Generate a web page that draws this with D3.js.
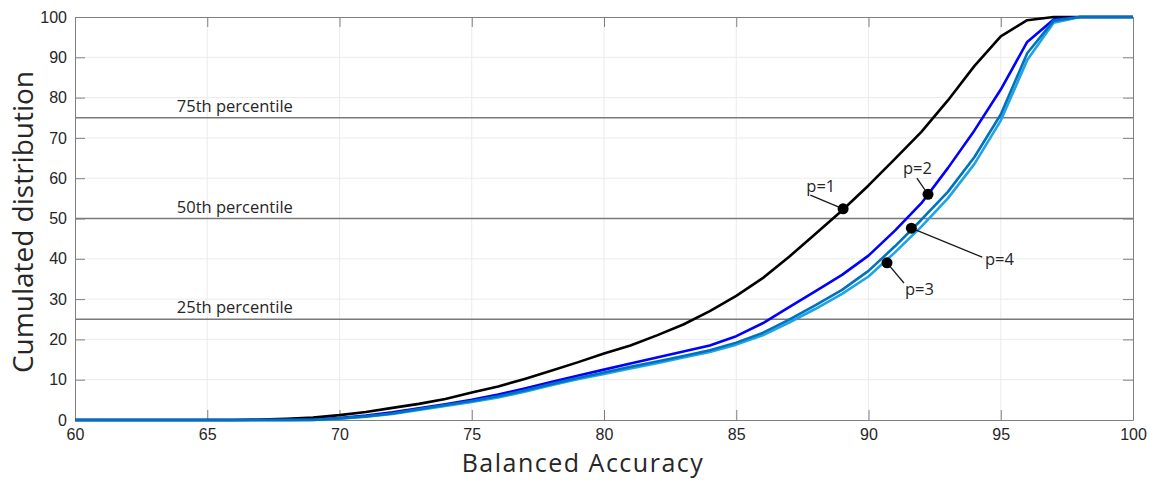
<!DOCTYPE html>
<html>
  <head>
    <meta charset='UTF-8'>
    <style>
    body {
      margin: 0;
      background: #fff;
    }
    svg {
      font-family: 'Open Sans', sans-serif;
    }
    .grid line {
      stroke: #ebebeb;
      stroke-width: 1;
    }
    .axis text {
      font-size: 16px;
      fill: #262626;
    }
    .axis path, .axis line {
      stroke: #808080;
    }
    </style>
  </head>
  <body>
  <script src='https://cdnjs.cloudflare.com/ajax/libs/d3/7.8.5/d3.min.js'></script>
  <script>

    // balanced accuracy grid
    var accuracy = d3.range(60, 101);

    // cumulated distribution (%) per p, read at integer accuracies 60..100
    var p1 = [0, 0, 0, 0, 0, 0, 0, 0.1, 0.3, 0.6, 1.2, 2, 3, 4, 5.2, 6.8, 8.3, 10.2, 12.2, 14.3,
      16.5, 18.5, 21, 23.7, 27, 30.8, 35.2, 40.5, 46.2, 52, 58.2, 64.8, 71.5, 79.3, 87.8, 95.2,
      99.2, 100, 100, 100, 100];
    var p2 = [0, 0, 0, 0, 0, 0, 0, 0, 0, 0.1, 0.5, 1.1, 1.9, 2.9, 3.9, 5, 6.3, 7.8, 9.4, 11,
      12.5, 14, 15.5, 17, 18.5, 20.8, 24, 28, 32, 36, 40.8, 47, 53.8, 62.5, 71.8, 82,
      93.8, 99.4, 100, 100, 100];
    var p3 = [0, 0, 0, 0, 0, 0, 0, 0, 0, 0, 0.3, 0.8, 1.5, 2.5, 3.5, 4.5, 5.6, 7, 8.6, 10.1,
      11.4, 12.8, 14.1, 15.5, 16.9, 18.7, 21, 24.2, 27.6, 31.3, 35.6, 41.6, 48, 55, 63.5, 74.3,
      89.3, 98.6, 100, 100, 100];
    var p4 = [0, 0, 0, 0, 0, 0, 0, 0, 0, 0, 0.4, 0.9, 1.6, 2.7, 3.7, 4.7, 5.9, 7.3, 8.9, 10.4,
      11.8, 13.2, 14.5, 15.9, 17.3, 19.2, 21.6, 24.9, 28.5, 32.3, 37, 43.1, 49.7, 56.6, 65.2, 75.8,
      91, 99.1, 100, 100, 100];

    var series = [
      {name: 'p=1', values: p1, color: '#000000'},
      {name: 'p=2', values: p2, color: '#0000ff'},
      {name: 'p=3', values: p3, color: '#1fa3e8'},
      {name: 'p=4', values: p4, color: '#0072bd'}
    ];

    var percentiles = [75, 50, 25];
    var percentileLabels = ['75th percentile', '50th percentile', '25th percentile'];

    // marker positions on the curves and where their labels go
    var markers = [
      {name: 'p=1', x: 89.04, y: 52.4, lx: 87.8, ly: 55.8, tx: 87.65, ty: 56.6},
      {name: 'p=2', x: 92.25, y: 56, lx: 91.83, ly: 60, tx: 91.3, ty: 61},
      {name: 'p=4', x: 91.62, y: 47.6, lx: 94.3, ly: 40.4, tx: 94.4, ty: 38.5},
      {name: 'p=3', x: 90.7, y: 39, lx: 91.34, ly: 34, tx: 91.38, ty: 31}
    ];

    var xTicks = d3.range(60, 101, 5);
    var yTicks = d3.range(0, 101, 10);

    var width = 1149, height = 480;
    var margin = {left: 75, right: 16, top: 17, bottom: 60};

    var x = d3.scaleLinear().domain([60, 100]).range([margin.left, width - margin.right]);
    var y = d3.scaleLinear().domain([0, 100]).range([height - margin.bottom, margin.top]);

    var svg = d3.select('body')
      .append('svg')
      .attr('width', width)
      .attr('height', height);

    // grid
    var grid = svg.append('g').attr('class', 'grid');
    grid.selectAll('.gx')
      .data(xTicks.slice(1, -1))
      .enter()
      .append('line')
      .attr('x1', function(d) { return x(d); })
      .attr('x2', function(d) { return x(d); })
      .attr('y1', y(0))
      .attr('y2', y(100));
    grid.selectAll('.gy')
      .data(yTicks.slice(1, -1))
      .enter()
      .append('line')
      .attr('x1', x(60))
      .attr('x2', x(100))
      .attr('y1', function(d) { return y(d); })
      .attr('y2', function(d) { return y(d); });

    // percentile lines
    svg.selectAll('.pct')
      .data(percentiles)
      .enter()
      .append('line')
      .attr('x1', x(60))
      .attr('x2', x(100))
      .attr('y1', function(d) { return y(d); })
      .attr('y2', function(d) { return y(d); })
      .attr('stroke', '#7a7a7a')
      .attr('stroke-width', 1.5);

    svg.selectAll('.pctlabel')
      .data(percentiles)
      .enter()
      .append('text')
      .attr('x', x(63.85))
      .attr('y', function(d) { return y(d) - 6; })
      .attr('font-size', 16.5)
      .attr('fill', '#262626')
      .text(function(d, i) { return percentileLabels[i]; });

    // axes, ticks inside on all four sides
    var tick = 10;
    svg.append('g')
      .attr('class', 'axis')
      .attr('transform', 'translate(0,' + y(0) + ')')
      .call(d3.axisBottom(x).tickValues(xTicks).tickSizeInner(-tick).tickSizeOuter(0).tickPadding(7))
      .call(function(g) { g.selectAll('text').attr('dy', '0.8em'); });
    svg.append('g')
      .attr('class', 'axis')
      .attr('transform', 'translate(0,' + y(100) + ')')
      .call(d3.axisTop(x).tickValues(xTicks).tickSizeInner(-tick).tickSizeOuter(0).tickFormat(''));
    svg.append('g')
      .attr('class', 'axis')
      .attr('transform', 'translate(' + x(60) + ',0)')
      .call(d3.axisLeft(y).tickValues(yTicks).tickSizeInner(-tick).tickSizeOuter(0).tickPadding(8));
    svg.append('g')
      .attr('class', 'axis')
      .attr('transform', 'translate(' + x(100) + ',0)')
      .call(d3.axisRight(y).tickValues(yTicks).tickSizeInner(-tick).tickSizeOuter(0).tickFormat(''));

    // curves
    var line = d3.line()
      .x(function(d, i) { return x(accuracy[i]); })
      .y(function(d) { return y(d); });

    svg.selectAll('.curve')
      .data(series)
      .enter()
      .append('path')
      .attr('d', function(s) { return line(s.values); })
      .attr('fill', 'none')
      .attr('stroke', function(s) { return s.color; })
      .attr('stroke-width', 2.6)
      .attr('stroke-linejoin', 'round');

    // markers with leader lines
    var mk = svg.selectAll('.marker')
      .data(markers)
      .enter()
      .append('g');
    mk.append('line')
      .attr('x1', function(d) { return x(d.x); })
      .attr('y1', function(d) { return y(d.y); })
      .attr('x2', function(d) { return x(d.lx); })
      .attr('y2', function(d) { return y(d.ly); })
      .attr('stroke', '#1a1a1a')
      .attr('stroke-width', 1.3);
    mk.append('circle')
      .attr('cx', function(d) { return x(d.x); })
      .attr('cy', function(d) { return y(d.y); })
      .attr('r', 5.5)
      .attr('fill', '#000');
    mk.append('text')
      .attr('x', function(d) { return x(d.tx); })
      .attr('y', function(d) { return y(d.ty); })
      .attr('font-size', 16.5)
      .attr('fill', '#262626')
      .text(function(d) { return d.name; });

    // axis titles
    svg.append('text')
      .attr('x', 583)
      .attr('y', 472)
      .attr('text-anchor', 'middle')
      .attr('font-size', 25)
      .attr('letter-spacing', 1.5)
      .attr('fill', '#262626')
      .text('Balanced Accuracy');

    svg.append('text')
      .attr('transform', 'translate(33,' + 222 + ') rotate(-90)')
      .attr('text-anchor', 'middle')
      .attr('font-size', 28)
      .attr('fill', '#262626')
      .text('Cumulated distribution');

  </script>
  </body>
</html>
